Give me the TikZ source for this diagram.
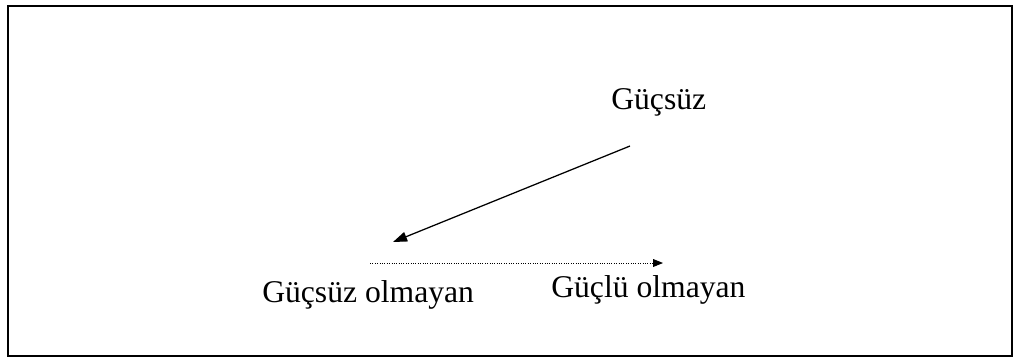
\documentclass[tikz,border=0pt]{standalone}
\usepackage{fontspec}
\setmainfont{Liberation Serif}
\usetikzlibrary{arrows.meta}

\begin{document}
\begin{tikzpicture}[x=0.025cm, y=-0.025cm, >={Triangle[length=10pt,width=7pt]},
  every node/.style={font=\fontsize{22.5}{27}\selectfont, inner sep=0pt, anchor=base west}]
\useasboundingbox (0,0) rectangle (1017,363);
\draw[line width=1.7pt] (8,6) rectangle (1012,356);
\node (weak) at (611,109) {Güçsüz};
\node (notweak) at (262,302) {Güçsüz olmayan};
\node (notstrong) at (551,297) {Güçlü olmayan};
\draw[->, line width=0.9pt] ([shift={(19,37)}]weak.base west) -- ([shift={(131,-60)}]notweak.base west);
\draw[-{Triangle[length=7pt,width=5.5pt]}, densely dotted, line width=0.7pt]
  ([shift={(108,-39)}]notweak.base west) -- ([shift={(112,-34)}]notstrong.base west);
\end{tikzpicture}
\end{document}
